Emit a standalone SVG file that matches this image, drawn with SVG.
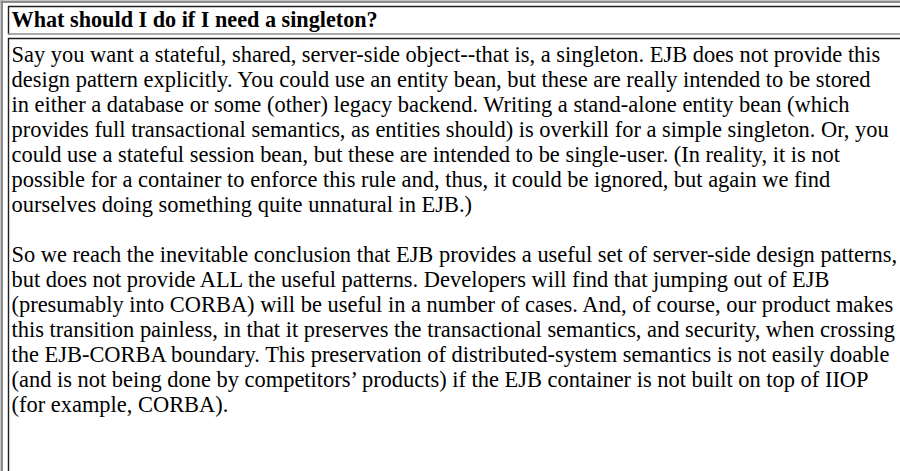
<svg xmlns="http://www.w3.org/2000/svg" width="900" height="471" viewBox="0 0 900 471">
  <style>
    .outer { fill: #8c8c8c; }
    .dark { stroke: #1e1e1e; stroke-width: 1.4; fill: none; }
    .light { stroke: #8c8c8c; stroke-width: 1.6; fill: none; }
    .body { font-family: "Liberation Serif", "Times New Roman", serif; font-size: 22.45px; fill: #000; }
    .head { font-family: "Liberation Serif", "Times New Roman", serif; font-size: 22.2px; font-weight: bold; fill: #000; }
  </style>
  <rect width="900" height="471" fill="#ffffff"/>
  <g id="table-frame">
    <rect class="outer" x="0.5" y="0.5" width="2.5" height="470.5"/>
    <rect class="outer" x="0.5" y="0.5" width="899.5" height="2.5"/>
  </g>
  <g id="header-cell">
    <line class="dark" x1="8" y1="6.5" x2="900" y2="6.5"/>
    <line class="dark" x1="8.5" y1="6" x2="8.5" y2="34.5"/>
    <line class="light" x1="8" y1="34" x2="900" y2="34"/>
    <text class="head" x="11.5" y="26.5">What should I do if I need a singleton?</text>
  </g>
  <g id="body-cell">
    <line class="dark" x1="8" y1="38.5" x2="900" y2="38.5"/>
    <line class="dark" x1="8.5" y1="38" x2="8.5" y2="471"/>
    <text class="body" x="11.5" y="62">Say you want a stateful, shared, server-side object--that is, a singleton. EJB does not provide this</text>
    <text class="body" x="11.5" y="87">design pattern explicitly. You could use an entity bean, but these are really intended to be stored</text>
    <text class="body" x="11.5" y="112">in either a database or some (other) legacy backend. Writing a stand-alone entity bean (which</text>
    <text class="body" x="11.5" y="137">provides full transactional semantics, as entities should) is overkill for a simple singleton. Or, you</text>
    <text class="body" x="11.5" y="162">could use a stateful session bean, but these are intended to be single-user. (In reality, it is not</text>
    <text class="body" x="11.5" y="187">possible for a container to enforce this rule and, thus, it could be ignored, but again we find</text>
    <text class="body" x="11.5" y="212">ourselves doing something quite unnatural in EJB.)</text>
    <text class="body" x="11.5" y="262">So we reach the inevitable conclusion that EJB provides a useful set of server-side design patterns,</text>
    <text class="body" x="11.5" y="287">but does not provide ALL the useful patterns. Developers will find that jumping out of EJB</text>
    <text class="body" x="11.5" y="312">(presumably into CORBA) will be useful in a number of cases. And, of course, our product makes</text>
    <text class="body" x="11.5" y="337">this transition painless, in that it preserves the transactional semantics, and security, when crossing</text>
    <text class="body" x="11.5" y="362">the EJB-CORBA boundary. This preservation of distributed-system semantics is not easily doable</text>
    <text class="body" x="11.5" y="387">(and is not being done by competitors’ products) if the EJB container is not built on top of IIOP</text>
    <text class="body" x="11.5" y="412">(for example, CORBA).</text>
  </g>
</svg>
